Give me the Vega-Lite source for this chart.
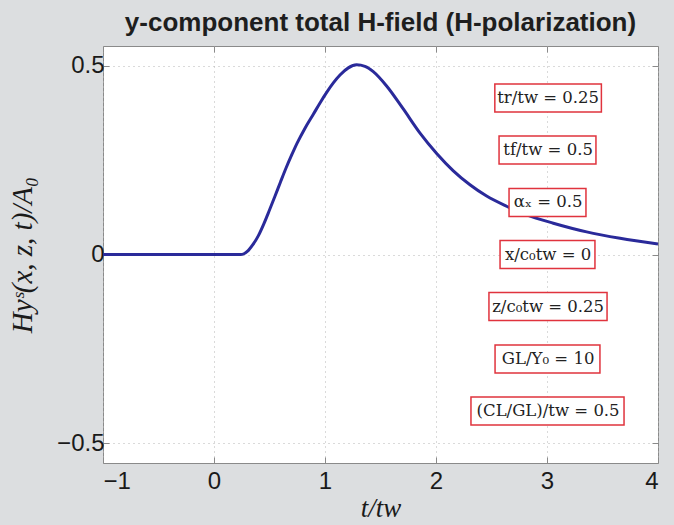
{
  "$schema": "https://vega.github.io/schema/vega-lite/v6.json",
  "width": 555,
  "height": 417,
  "autosize": {"type": "none"},
  "padding": {"left": 103, "top": 46, "right": 16, "bottom": 62},
  "background": "#dcdee0",
  "config": {"view": {"stroke": "#8a8a8a", "strokeWidth": 1, "fill": "white"}},
  "title": {"text": "y-component total H-field (H-polarization)", "font": "Liberation Sans", "fontSize": 26, "fontWeight": "bold", "color": "#1e1e1e", "offset": 10, "anchor": "middle"},
  "datasets": {
    "curve": [
      {"t": -1, "h": 0}, {"t": 0.24, "h": 0}, {"t": 0.27, "h": 0.002}, {"t": 0.3, "h": 0.008},
      {"t": 0.35, "h": 0.026}, {"t": 0.4, "h": 0.05}, {"t": 0.45, "h": 0.082}, {"t": 0.5, "h": 0.118},
      {"t": 0.55, "h": 0.155}, {"t": 0.6, "h": 0.193}, {"t": 0.65, "h": 0.23}, {"t": 0.7, "h": 0.264},
      {"t": 0.75, "h": 0.296}, {"t": 0.82, "h": 0.335}, {"t": 0.895, "h": 0.372}, {"t": 0.955, "h": 0.402},
      {"t": 1.015, "h": 0.43}, {"t": 1.075, "h": 0.455}, {"t": 1.135, "h": 0.476},
      {"t": 1.21, "h": 0.495}, {"t": 1.285, "h": 0.503}, {"t": 1.36, "h": 0.499}, {"t": 1.435, "h": 0.485},
      {"t": 1.555, "h": 0.447}, {"t": 1.705, "h": 0.386}, {"t": 1.856, "h": 0.322}, {"t": 2.006, "h": 0.268},
      {"t": 2.156, "h": 0.222}, {"t": 2.306, "h": 0.185}, {"t": 2.456, "h": 0.155}, {"t": 2.636, "h": 0.128},
      {"t": 2.817, "h": 0.105}, {"t": 3.057, "h": 0.083}, {"t": 3.357, "h": 0.06}, {"t": 3.658, "h": 0.043},
      {"t": 4.0, "h": 0.028}
    ],
    "notes": [
      {"label": "tr/tw = 0.25", "xc": 3.01, "xl": 2.53, "xr": 3.49, "y": 0.415},
      {"label": "tf/tw = 0.5", "xc": 3.01, "xl": 2.568, "xr": 3.441, "y": 0.277},
      {"label": "αₓ = 0.5", "xc": 3.01, "xl": 2.658, "xr": 3.351, "y": 0.138},
      {"label": "x/c₀tw = 0", "xc": 3.01, "xl": 2.577, "xr": 3.432, "y": 0.0},
      {"label": "z/c₀tw = 0.25", "xc": 3.01, "xl": 2.477, "xr": 3.541, "y": -0.138},
      {"label": "GL/Y₀ = 10", "xc": 3.01, "xl": 2.532, "xr": 3.477, "y": -0.277},
      {"label": "(CL/GL)/tw = 0.5", "xc": 3.01, "xl": 2.315, "xr": 3.694, "y": -0.415}
    ]
  },
  "layer": [
    {
      "data": {"name": "curve"},
      "mark": {"type": "line", "color": "#2a2a9a", "strokeWidth": 3, "interpolate": "monotone"},
      "encoding": {
        "x": {"field": "t", "type": "quantitative", "scale": {"domain": [-1, 4], "nice": false, "zero": false},
          "axis": {"orient": "bottom", "values": [-1, 0, 1, 2, 3, 4], "format": "d", "domain": false, "grid": true,
            "gridColor": "#b4b4b4", "gridDash": [1, 4], "gridWidth": 1, "tickSize": -6, "tickColor": "#8a8a8a",
            "labelFont": "Liberation Sans", "labelFontSize": 24, "labelColor": "#1a1a1a", "labelPadding": 12,
            "title": "t/tw", "titleFont": "Liberation Serif", "titleFontStyle": "italic", "titleFontWeight": "normal",
            "titleFontSize": 27, "titleColor": "#1a1a1a", "titlePadding": 2}},
        "y": {"field": "h", "type": "quantitative", "scale": {"domain": [-0.553, 0.553], "nice": false, "zero": false},
          "axis": {"orient": "left", "values": [-0.5, 0, 0.5], "format": "~g", "domain": false, "grid": true,
            "gridColor": "#b4b4b4", "gridDash": [1, 4], "gridWidth": 1, "tickSize": -6, "tickColor": "#8a8a8a",
            "labelFont": "Liberation Sans", "labelFontSize": 24, "labelColor": "#1a1a1a", "labelPadding": 5,
            "title": "Hyˢ(x, z, t)/A₀", "titleFont": "Liberation Serif", "titleFontStyle": "italic", "titleFontWeight": "normal",
            "titleFontSize": 29, "titleColor": "#1a1a1a", "titlePadding": 19}}
      }
    },
    {
      "data": {"name": "notes"},
      "mark": {"type": "rect", "fill": "white", "stroke": "#e0333d", "strokeWidth": 1.5, "height": 28},
      "encoding": {
        "x": {"field": "xl", "type": "quantitative",
          "axis": {"orient": "top", "values": [-1, 0, 1, 2, 3, 4], "labels": false, "domain": false, "grid": false, "tickSize": -6, "tickColor": "#8a8a8a", "title": null}},
        "x2": {"field": "xr"},
        "y": {"field": "y", "type": "quantitative",
          "axis": {"orient": "right", "values": [-0.5, 0, 0.5], "labels": false, "domain": false, "grid": false, "tickSize": -6, "tickColor": "#8a8a8a", "title": null}}
      }
    },
    {
      "data": {"name": "notes"},
      "mark": {"type": "text", "font": "DejaVu Serif", "fontSize": 16.5, "color": "#222222", "align": "center", "baseline": "middle"},
      "encoding": {
        "x": {"field": "xc", "type": "quantitative", "axis": null},
        "y": {"field": "y", "type": "quantitative", "axis": null},
        "text": {"field": "label"}
      }
    }
  ],
  "resolve": {"axis": {"x": "independent", "y": "independent"}}
}
